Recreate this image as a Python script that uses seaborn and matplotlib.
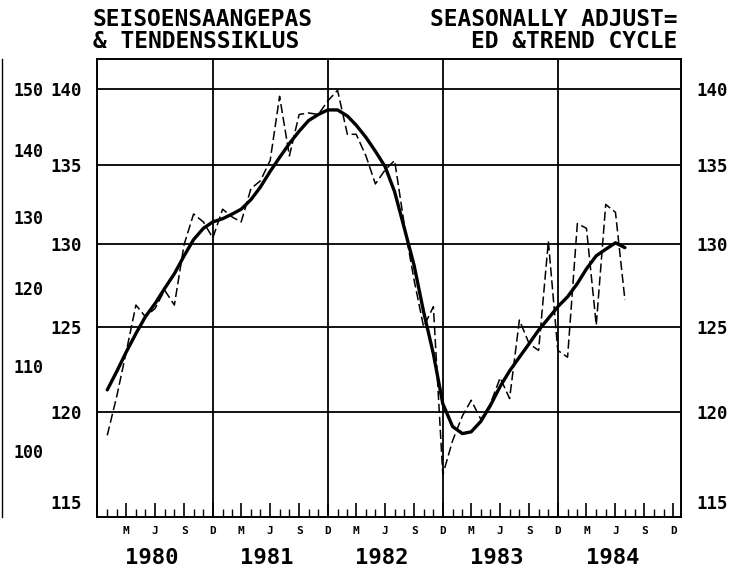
import pandas as pd
import matplotlib.pyplot as plt
import matplotlib.dates as mdates
from matplotlib.ticker import FixedLocator, FuncFormatter, NullLocator, NullFormatter
import seaborn as sns

# monthly values, Jan 1980 - Jul 1984
months = pd.date_range("1980-01-01", periods=55, freq="MS")

seasonally_adjusted = [
    118.7, 121.0, 123.5, 126.3, 125.6, 126.1, 127.2, 126.3, 130.0, 131.9, 131.4, 130.4,  # 1980
    132.2, 131.7, 131.4, 133.5, 134.0, 135.3, 139.5, 135.6, 138.3, 138.4, 138.3, 139.2,  # 1981
    139.9, 137.0, 137.0, 135.6, 133.8, 134.7, 135.3, 131.2, 127.8, 125.0, 126.2, 116.5,  # 1982
    118.4, 119.8, 120.7, 119.6, 120.5, 122.0, 120.8, 125.4, 124.0, 123.6, 130.2, 123.6,  # 1983
    123.2, 131.3, 131.0, 125.1, 132.5, 132.0, 126.6,                                     # 1984
]
trend_cycle = [
    121.3, 122.4, 123.5, 124.6, 125.6, 126.4, 127.3, 128.2, 129.3, 130.3, 131.0, 131.4,
    131.6, 131.9, 132.2, 132.8, 133.6, 134.6, 135.5, 136.4, 137.2, 137.9, 138.3, 138.6,
    138.6, 138.2, 137.6, 136.8, 135.9, 134.9, 133.3, 131.0, 128.7, 125.9, 123.4, 120.5,
    119.2, 118.8, 118.9, 119.5, 120.4, 121.5, 122.4, 123.2, 124.0, 124.8, 125.5, 126.2,
    126.8, 127.6, 128.5, 129.3, 129.7, 130.1, 129.8,
]

years = [1980, 1981, 1982, 1983, 1984]
quarter_letters = {3: "M", 6: "J", 9: "S", 12: "D"}
inner_ticks = [115, 120, 125, 130, 135, 140]
outer_ticks = [100, 110, 120, 130, 140, 150]
grid_levels = [120, 125, 130, 135, 140]

df = pd.DataFrame({"month": months, "adjusted": seasonally_adjusted, "trend": trend_cycle})

sns.set_style("white")
plt.rcParams["font.family"] = ["DejaVu Sans Mono", "DejaVu Sans"]
plt.rcParams["font.weight"] = "bold"
plt.rcParams["text.color"] = "black"
plt.rcParams["xtick.color"] = "black"
plt.rcParams["ytick.color"] = "black"


def quarter_label(v, pos):
    d = mdates.num2date(v)
    if d.year < years[0]:
        return ""
    return quarter_letters[d.month]


fig = plt.figure(figsize=(7.42, 5.72), dpi=100)
ax = fig.add_axes([0.1314, 0.097, 0.7864, 0.7998])

sns.lineplot(data=df, x="month", y="adjusted", ax=ax, color="black", lw=1.1,
             linestyle=(0, (6, 2.5)))
sns.lineplot(data=df, x="month", y="trend", ax=ax, color="black", lw=2.4)

ax.set_yscale("log")
ax.set_ylim(114.2, 142.0)
ax.set_xlim(pd.Timestamp("1979-12-01"), pd.Timestamp("1984-12-26"))
ax.set(xlabel="", ylabel="")

# grid: horizontal levels and december lines
for v in grid_levels:
    ax.axhline(v, color="black", lw=1.3, zorder=1)
for y in years[:-1]:
    ax.axvline(pd.Timestamp(f"{y}-12-01"), color="black", lw=1.3, zorder=1)

for s in ax.spines.values():
    s.set_color("black")
    s.set_linewidth(1.4)

# y axis, left and right labels
ax.yaxis.set_major_locator(FixedLocator(inner_ticks))
ax.yaxis.set_major_formatter(FuncFormatter(lambda v, p: f"{v:.0f}"))
ax.yaxis.set_minor_locator(NullLocator())
ax.yaxis.set_minor_formatter(NullFormatter())
ax.tick_params(axis="y", which="both", length=0, labelsize=12.5, pad=11,
               left=False, right=False, labelleft=True, labelright=True,
               labelcolor="black")

# x axis: monthly ticks, quarter letters
ax.xaxis.set_major_locator(mdates.MonthLocator(bymonth=[3, 6, 9, 12]))
ax.xaxis.set_minor_locator(mdates.MonthLocator())
ax.xaxis.set_major_formatter(FuncFormatter(quarter_label))
ax.xaxis.set_minor_formatter(NullFormatter())
ax.tick_params(axis="x", which="major", direction="in", length=10, width=1.2,
               labelsize=8, pad=7, bottom=True, labelcolor="black")
ax.tick_params(axis="x", which="minor", direction="in", length=6, width=1.0, bottom=True)

for y in years:
    ax.text(mdates.date2num(pd.Timestamp(f"{y}-05-22")), -0.09, str(y),
            transform=ax.get_xaxis_transform(), ha="center", va="center", fontsize=16)

# outer scale on the far left
power = 2.35
sec = ax.secondary_yaxis(-95 / 583.5, functions=(lambda v: 150 * (v / 140) ** power,
                                                 lambda u: 140 * (u / 150) ** (1 / power)))
sec.set_alignment("right")
sec.set_ticks(outer_ticks)
sec.yaxis.set_major_formatter(FuncFormatter(lambda v, p: f"{v:.0f}"))
sec.yaxis.set_minor_locator(NullLocator())
sec.yaxis.set_minor_formatter(NullFormatter())
sec.tick_params(length=0, pad=8, labelsize=12, labelcolor="black")
sec.spines["right"].set_color("black")
sec.spines["right"].set_linewidth(1.0)

# titles
fig.text(93 / 742, 1 - 19 / 572, "SEISOENSAANGEPAS", ha="left", va="center", fontsize=16.5)
fig.text(93 / 742, 1 - 41 / 572, "& TENDENSSIKLUS", ha="left", va="center", fontsize=16.5)
fig.text(677 / 742, 1 - 19 / 572, "SEASONALLY ADJUST=", ha="right", va="center", fontsize=16.5)
fig.text(677 / 742, 1 - 41 / 572, "ED &TREND CYCLE", ha="right", va="center", fontsize=16.5)

fig.savefig("out.png", dpi=100)
